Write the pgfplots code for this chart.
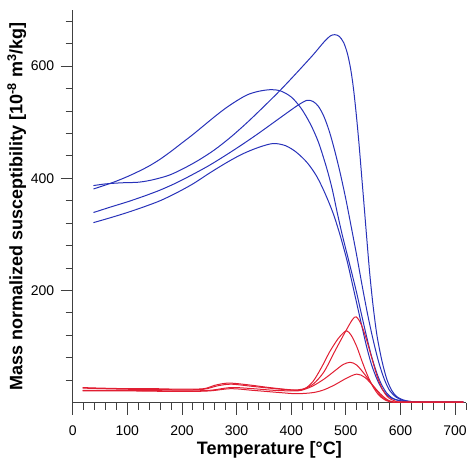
\documentclass[border=0pt]{standalone}
\usepackage{pgfplots}
\pgfplotsset{compat=1.18}
\usepackage{fontspec}
\setmainfont{Liberation Sans}
\definecolor{cblue}{RGB}{40,50,185}
\definecolor{cred}{RGB}{225,30,50}
\begin{document}
\begin{tikzpicture}
\path[use as bounding box] (-72.7pt,-71.3pt) rectangle (401.3pt,402.7pt);
\begin{axis}[
  at={(0pt,0pt)}, anchor=south west,
  scale only axis, width=393.3pt, height=392.7pt,
  xmin=0, xmax=720, ymin=0, ymax=700,
  axis x line*=bottom, axis y line*=left,
  axis line style={-, line width=0.9pt, black!75},
  tick align=outside,
  xtick={0,100,...,700},
  minor xtick={20,40,...,720},
  ytick={200,400,600},
  minor ytick={40,80,...,680},
  major tick length=12pt, minor tick length=7pt,
  tick style={line width=0.9pt, black!75},
  /pgf/number format/assume math mode=true,
  tick label style={font=\fontsize{14}{16}\selectfont},
  xticklabel shift=7pt,
  yticklabel shift=3pt,
  xlabel={Temperature [°C]},
  ylabel={Mass normalized susceptibility [10\textsuperscript{-8} m\textsuperscript{3}/kg]},
  every axis x label/.style={at={(axis description cs:0.5,-0.1197)}, anchor=center, font=\fontsize{18}{21}\selectfont\bfseries},
  every axis y label/.style={at={(axis description cs:-0.1424,0.5)}, anchor=center, rotate=90, font=\fontsize{18}{21}\selectfont\bfseries},
  clip=false,
]
% blue heating curves
\addplot[cblue, line width=1pt, smooth, tension=0.5] coordinates {
(38,381) (60,388) (80,395) (100,403) (120,412) (140,422) (160,434) (180,448) (200,463) (220,478) (240,494) (260,510) (280,525) (300,538) (320,549) (340,555) (362,558) (380,556) (400,545) (418,525) (435,497) (450,464) (465,418) (475,381) (484,340) (493,301) (502,266) (511,231) (520,195) (529,156) (538,118) (547,83) (557,52) (566,31) (575,17) (584,9) (593,5) (610,2) (640,1) (715,1)};
\addplot[cblue, line width=1pt, smooth, tension=0.5] coordinates {
(38,387) (60,390) (90,392) (120,393) (145,397) (175,405) (200,416) (230,432) (260,451) (290,474) (320,500) (350,528) (380,557) (410,588) (440,620) (460,643) (472,654) (480,656) (488,653) (496,642) (503,622) (509,594) (514,560) (519,515) (524,463) (529,404) (534,345) (539,285) (544,228) (550,172) (557,120) (566,75) (575,42) (584,22) (593,11) (605,5) (620,2) (650,1) (715,1)};
\addplot[cblue, line width=1pt, smooth, tension=0.5] coordinates {
(38,339) (70,349) (100,358) (130,368) (160,379) (190,392) (220,407) (250,423) (280,441) (310,460) (340,480) (370,501) (400,522) (415,532) (429,539) (440,537) (450,528) (460,510) (470,483) (480,448) (490,408) (500,363) (510,313) (520,262) (530,208) (540,157) (550,112) (560,73) (570,43) (580,22) (592,10) (605,4) (620,2) (650,1) (715,1)};
\addplot[cblue, line width=1pt, smooth, tension=0.5] coordinates {
(38,321) (70,330) (100,339) (130,349) (160,360) (190,374) (220,390) (250,409) (280,427) (310,443) (340,455) (367,462) (390,458) (410,446) (430,427) (447,403) (462,373) (477,337) (490,297) (502,254) (511,216) (520,177) (529,138) (538,100) (547,68) (557,42) (566,25) (575,14) (584,8) (593,5) (610,2) (640,1) (715,1)};
% red curves
\addplot[cred, line width=1pt, smooth, tension=0.5] coordinates {
(18,27) (50,26) (100,25) (150,25) (200,24) (240,25) (260,31) (285,35) (320,32) (360,27) (400,23) (420,24) (440,33) (460,55) (480,92) (500,128) (512,148) (519,153) (528,140) (538,112) (548,78) (558,45) (568,22) (578,9) (590,3) (600,1) (650,1) (715,1)};
\addplot[cred, line width=1pt, smooth, tension=0.5] coordinates {
(18,26) (100,24) (200,23) (240,24) (265,30) (290,33) (330,29) (370,25) (410,22) (425,25) (440,38) (455,62) (470,90) (485,113) (495,124) (502,128) (510,120) (520,100) (530,73) (540,48) (550,28) (560,14) (570,6) (580,2) (600,1) (715,1)};
\addplot[cred, line width=1pt, smooth, tension=0.5] coordinates {
(18,22) (100,22) (200,21) (250,22) (290,27) (330,25) (370,22) (410,21) (425,24) (440,30) (460,42) (480,57) (495,68) (508,72) (520,67) (535,50) (550,30) (562,15) (572,6) (580,2) (600,1) (715,1)};
\addplot[cred, line width=1pt, smooth, tension=0.5] coordinates {
(18,21) (100,21) (200,20) (250,21) (290,25) (330,22) (380,18) (410,16) (440,18) (460,23) (480,32) (500,43) (520,51) (535,45) (550,30) (563,16) (575,6) (585,2) (600,1) (715,1)};
\end{axis}
\end{tikzpicture}
\end{document}
